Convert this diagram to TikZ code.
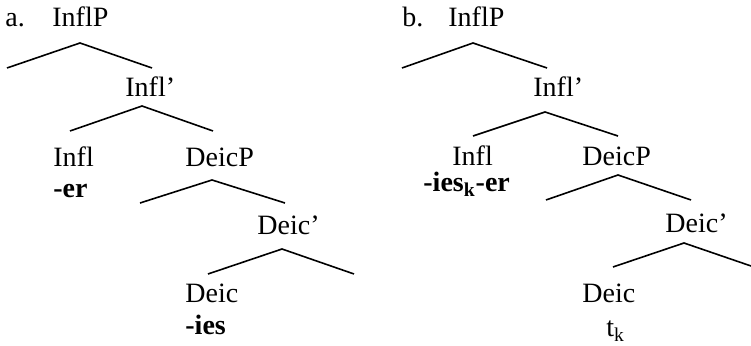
\documentclass[tikz,border=0pt]{standalone}
\usepackage{fontspec}
\setmainfont{Liberation Serif}
\tikzset{
  cat/.style = {anchor=base west, inner sep=0pt,
    font=\fontsize{14}{17}\selectfont},% category label
  morph/.style = {cat, font=\fontsize{14}{17}\selectfont\bfseries},% morpheme
  branch/.style = {draw, line width=0.8pt}
}

\begin{document}
\begin{tikzpicture}[x=0.5pt, y=-0.5pt]
  \useasboundingbox (0,0) rectangle (751,346);
  % tree (a)
  \node [cat] (a-ex) at (5,27) {a.};
  \node [cat] (a-ip) at (52,27) {InflP};
  \node [cat] (a-ibar) at (125,97) {Infl'};
  \node [cat] (a-i) at (53,167) {Infl};
  \node [morph] (a-er) at (53,198) {-er};
  \node [cat] (a-dp) at (185,167) {DeicP};
  \node [cat] (a-dbar) at (257,235) {Deic'};
  \node [cat] (a-d) at (185,303) {Deic};
  \node [morph] (a-ies) at (185,335) {-ies};
  \coordinate (a-ip-l) at (7,68);
  \coordinate (a-ip-t) at (80,43);
  \coordinate (a-ip-r) at (152,68);
  \coordinate (a-ibar-l) at (70,131);
  \coordinate (a-ibar-t) at (142,106);
  \coordinate (a-ibar-r) at (213,131);
  \coordinate (a-dp-l) at (140,203);
  \coordinate (a-dp-t) at (212,180);
  \coordinate (a-dp-r) at (285,203);
  \coordinate (a-dbar-l) at (208,274);
  \coordinate (a-dbar-t) at (282,249);
  \coordinate (a-dbar-r) at (354,274);
  \draw [branch] (a-ip-l) -- (a-ip-t) -- (a-ip-r);
  \draw [branch] (a-ibar-l) -- (a-ibar-t) -- (a-ibar-r);
  \draw [branch] (a-dp-l) -- (a-dp-t) -- (a-dp-r);
  \draw [branch] (a-dbar-l) -- (a-dbar-t) -- (a-dbar-r);
  % tree (b)
  \node [cat] (b-ex) at (402,27) {b.};
  \node [cat] (b-ip) at (448,27) {InflP};
  \node [cat] (b-ibar) at (533,97) {Infl'};
  \node [cat] (b-i) at (452,166) {Infl};
  \node [morph] (b-ieser) at (423,192) {-ies\textsubscript{k}-er};
  \node [cat] (b-dp) at (582,166) {DeicP};
  \node [cat] (b-dbar) at (665,233) {Deic'};
  \node [cat] (b-d) at (582,303) {Deic};
  \node [cat] (b-t) at (606,337) {t\textsubscript{k}};
  \coordinate (b-ip-l) at (402,68);
  \coordinate (b-ip-t) at (473,43);
  \coordinate (b-ip-r) at (547,68);
  \coordinate (b-ibar-l) at (473,136);
  \coordinate (b-ibar-t) at (545,112);
  \coordinate (b-ibar-r) at (618,136);
  \coordinate (b-dp-l) at (546,200);
  \coordinate (b-dp-t) at (618,175);
  \coordinate (b-dp-r) at (691,200);
  \coordinate (b-dbar-l) at (613,267);
  \coordinate (b-dbar-t) at (684,243);
  \coordinate (b-dbar-r) at (751,266);
  \draw [branch] (b-ip-l) -- (b-ip-t) -- (b-ip-r);
  \draw [branch] (b-ibar-l) -- (b-ibar-t) -- (b-ibar-r);
  \draw [branch] (b-dp-l) -- (b-dp-t) -- (b-dp-r);
  \draw [branch] (b-dbar-l) -- (b-dbar-t) -- (b-dbar-r);
\end{tikzpicture}
\end{document}
